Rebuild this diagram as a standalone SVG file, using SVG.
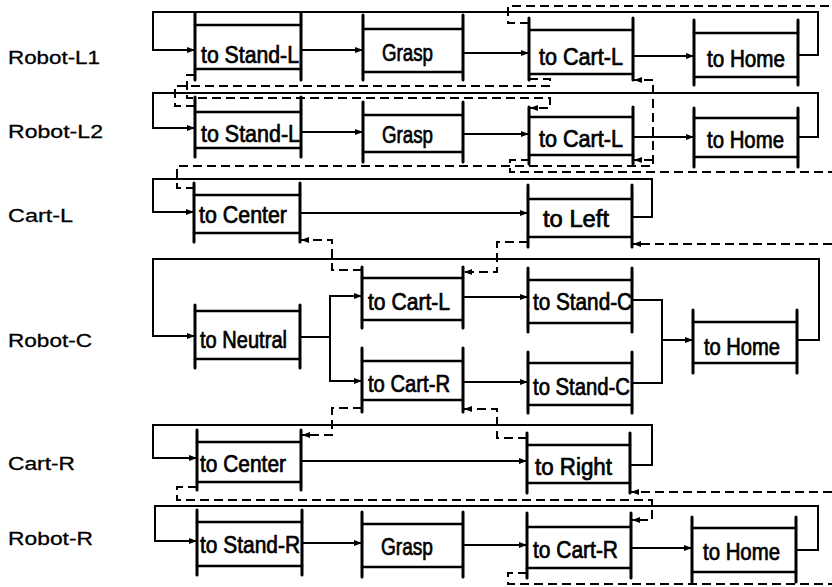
<svg xmlns="http://www.w3.org/2000/svg" width="832" height="587" viewBox="0 0 832 587">
<defs>
<marker id="ah" markerUnits="userSpaceOnUse" markerWidth="9" markerHeight="7" refX="8" refY="3" orient="auto"><path d="M0,0 L8,3 L0,6 z" fill="#000"/></marker>
<style>
.node line{stroke:#000;stroke-linecap:round}
.bar{stroke-width:3}
.hl{stroke-width:2.5}
.node text{font-family:"Liberation Sans",Arial,sans-serif;font-size:23px;fill:#000;stroke:#000;stroke-width:0.7}
.lbl{font-family:"Liberation Sans",Arial,sans-serif;font-size:19px;fill:#000;stroke:#000;stroke-width:0.3}
.s{fill:none;stroke:#000;stroke-width:2}
.d{fill:none;stroke:#000;stroke-width:2;stroke-dasharray:9 5}
.a{marker-end:url(#ah)}
</style>
</defs>
<rect width="832" height="587" fill="#fff"/>
<g id="labels">
<text class="lbl" x="8" y="64" textLength="92" lengthAdjust="spacingAndGlyphs">Robot-L1</text>
<text class="lbl" x="8" y="138" textLength="95" lengthAdjust="spacingAndGlyphs">Robot-L2</text>
<text class="lbl" x="8" y="222" textLength="65" lengthAdjust="spacingAndGlyphs">Cart-L</text>
<text class="lbl" x="8" y="347" textLength="84" lengthAdjust="spacingAndGlyphs">Robot-C</text>
<text class="lbl" x="8" y="470" textLength="67" lengthAdjust="spacingAndGlyphs">Cart-R</text>
<text class="lbl" x="8" y="545" textLength="85" lengthAdjust="spacingAndGlyphs">Robot-R</text>
</g>
<g id="connectors">
<path class="s a" d="M798,55 H818 V12 H153 V50 H195"/>
<path class="s a" d="M301,50 H363"/>
<path class="s a" d="M463,53 H529"/>
<path class="s a" d="M633,56 H694"/>
<path class="s a" d="M798,137 H818 V93 H153 V128 H195"/>
<path class="s a" d="M301,132 H363"/>
<path class="s a" d="M463,134 H529"/>
<path class="s a" d="M633,137 H694"/>
<path class="s a" d="M632,217 H652 V179 H153 V212 H194"/>
<path class="s a" d="M300,213 H528"/>
<path class="s a" d="M797,340 H819 V259 H153 V336 H195"/>
<path class="s a" d="M300,337 H330 V296 H362"/>
<path class="s a" d="M330,337 V381 H362"/>
<path class="s a" d="M463,297 H528"/>
<path class="s a" d="M463,382 H528"/>
<path class="s" d="M632,300 H662 V383 H632"/>
<path class="s a" d="M662,340 H693"/>
<path class="s a" d="M630,465 H652 V425 H153 V458 H197"/>
<path class="s a" d="M301,461 H527"/>
<path class="s a" d="M796,550 H818 V506 H155 V541 H197"/>
<path class="s a" d="M302,543 H362"/>
<path class="s a" d="M463,545 H527"/>
<path class="s a" d="M631,548 H692"/>
<path class="d" d="M529,23 H508 V6 H832"/>
<path class="d" d="M529,79 H550 V86 H175 V106 H195"/>
<path class="d a" d="M195,75 H187 V98 H550 V108 H530"/>
<path class="d a" d="M195,188 H177 V166 H653 V80 H634"/>
<path class="d a" d="M653,160 H634"/>
<path class="d" d="M530,160 H510 V172 H832"/>
<path class="d a" d="M832,244 H633"/>
<path class="d a" d="M528,242 H497 V272 H464"/>
<path class="d a" d="M362,270 H332 V240 H301"/>
<path class="d a" d="M362,408 H332 V435 H302"/>
<path class="d a" d="M527,438 H497 V409 H464"/>
<path class="d a" d="M832,492 H631"/>
<path class="d a" d="M197,487 H177 V500 H652 V520 H632"/>
<path class="d" d="M527,573 H508 V584 H832"/>
</g>
<g id="n1" class="node"><line class="bar" x1="195" y1="13" x2="195" y2="80"/><line class="bar" x1="301" y1="13" x2="301" y2="80"/><line class="hl" x1="195" y1="25" x2="301" y2="25"/><line class="hl" x1="195" y1="69" x2="301" y2="69"/><text x="201" y="63" textLength="98" lengthAdjust="spacingAndGlyphs">to Stand-L</text></g>
<g id="n2" class="node"><line class="bar" x1="363" y1="15" x2="363" y2="80"/><line class="bar" x1="463" y1="15" x2="463" y2="80"/><line class="hl" x1="363" y1="29" x2="463" y2="29"/><line class="hl" x1="363" y1="72" x2="463" y2="72"/><text x="382" y="61" textLength="51" lengthAdjust="spacingAndGlyphs">Grasp</text></g>
<g id="n3" class="node"><line class="bar" x1="529" y1="18" x2="529" y2="80"/><line class="bar" x1="633" y1="18" x2="633" y2="80"/><line class="hl" x1="529" y1="30" x2="633" y2="30"/><line class="hl" x1="529" y1="74" x2="633" y2="74"/><text x="539" y="65" textLength="84" lengthAdjust="spacingAndGlyphs">to Cart-L</text></g>
<g id="n4" class="node"><line class="bar" x1="694" y1="20" x2="694" y2="85"/><line class="bar" x1="798" y1="20" x2="798" y2="85"/><line class="hl" x1="694" y1="33" x2="798" y2="33"/><line class="hl" x1="694" y1="77" x2="798" y2="77"/><text x="707" y="67" textLength="78" lengthAdjust="spacingAndGlyphs">to Home</text></g>
<g id="n5" class="node"><line class="bar" x1="195" y1="97" x2="195" y2="157"/><line class="bar" x1="301" y1="97" x2="301" y2="157"/><line class="hl" x1="195" y1="112" x2="301" y2="112"/><line class="hl" x1="195" y1="148" x2="301" y2="148"/><text x="201" y="142" textLength="99" lengthAdjust="spacingAndGlyphs">to Stand-L</text></g>
<g id="n6" class="node"><line class="bar" x1="363" y1="102" x2="363" y2="162"/><line class="bar" x1="463" y1="102" x2="463" y2="162"/><line class="hl" x1="363" y1="115" x2="463" y2="115"/><line class="hl" x1="363" y1="152" x2="463" y2="152"/><text x="382" y="143" textLength="51" lengthAdjust="spacingAndGlyphs">Grasp</text></g>
<g id="n7" class="node"><line class="bar" x1="529" y1="107" x2="529" y2="164"/><line class="bar" x1="633" y1="107" x2="633" y2="164"/><line class="hl" x1="529" y1="117" x2="633" y2="117"/><line class="hl" x1="529" y1="155" x2="633" y2="155"/><text x="539" y="147" textLength="84" lengthAdjust="spacingAndGlyphs">to Cart-L</text></g>
<g id="n8" class="node"><line class="bar" x1="694" y1="108" x2="694" y2="167"/><line class="bar" x1="798" y1="108" x2="798" y2="167"/><line class="hl" x1="694" y1="118" x2="798" y2="118"/><line class="hl" x1="694" y1="157" x2="798" y2="157"/><text x="707" y="148" textLength="77" lengthAdjust="spacingAndGlyphs">to Home</text></g>
<g id="n9" class="node"><line class="bar" x1="194" y1="183" x2="194" y2="242"/><line class="bar" x1="300" y1="183" x2="300" y2="242"/><line class="hl" x1="194" y1="195" x2="300" y2="195"/><line class="hl" x1="194" y1="233" x2="300" y2="233"/><text x="199" y="223" textLength="88" lengthAdjust="spacingAndGlyphs">to Center</text></g>
<g id="n10" class="node"><line class="bar" x1="528" y1="185" x2="528" y2="247"/><line class="bar" x1="632" y1="185" x2="632" y2="247"/><line class="hl" x1="528" y1="199" x2="632" y2="199"/><line class="hl" x1="528" y1="237" x2="632" y2="237"/><text x="543" y="227" textLength="66" lengthAdjust="spacingAndGlyphs">to Left</text></g>
<g id="n11" class="node"><line class="bar" x1="195" y1="305" x2="195" y2="368"/><line class="bar" x1="300" y1="305" x2="300" y2="368"/><line class="hl" x1="195" y1="311" x2="300" y2="311"/><line class="hl" x1="195" y1="359" x2="300" y2="359"/><text x="200" y="348" textLength="87" lengthAdjust="spacingAndGlyphs">to Neutral</text></g>
<g id="n12" class="node"><line class="bar" x1="362" y1="267" x2="362" y2="328"/><line class="bar" x1="463" y1="267" x2="463" y2="328"/><line class="hl" x1="362" y1="278" x2="463" y2="278"/><line class="hl" x1="362" y1="320" x2="463" y2="320"/><text x="368" y="310" textLength="82" lengthAdjust="spacingAndGlyphs">to Cart-L</text></g>
<g id="n13" class="node"><line class="bar" x1="528" y1="268" x2="528" y2="332"/><line class="bar" x1="632" y1="268" x2="632" y2="332"/><line class="hl" x1="528" y1="280" x2="632" y2="280"/><line class="hl" x1="528" y1="323" x2="632" y2="323"/><text x="533" y="310" textLength="99" lengthAdjust="spacingAndGlyphs">to Stand-C</text></g>
<g id="n14" class="node"><line class="bar" x1="693" y1="310" x2="693" y2="373"/><line class="bar" x1="797" y1="310" x2="797" y2="373"/><line class="hl" x1="693" y1="322" x2="797" y2="322"/><line class="hl" x1="693" y1="363" x2="797" y2="363"/><text x="704" y="355" textLength="76" lengthAdjust="spacingAndGlyphs">to Home</text></g>
<g id="n15" class="node"><line class="bar" x1="362" y1="348" x2="362" y2="412"/><line class="bar" x1="463" y1="348" x2="463" y2="412"/><line class="hl" x1="362" y1="361" x2="463" y2="361"/><line class="hl" x1="362" y1="400" x2="463" y2="400"/><text x="368" y="392" textLength="82" lengthAdjust="spacingAndGlyphs">to Cart-R</text></g>
<g id="n16" class="node"><line class="bar" x1="528" y1="352" x2="528" y2="413"/><line class="bar" x1="632" y1="352" x2="632" y2="413"/><line class="hl" x1="528" y1="363" x2="632" y2="363"/><line class="hl" x1="528" y1="405" x2="632" y2="405"/><text x="533" y="395" textLength="97" lengthAdjust="spacingAndGlyphs">to Stand-C</text></g>
<g id="n17" class="node"><line class="bar" x1="197" y1="430" x2="197" y2="490"/><line class="bar" x1="301" y1="430" x2="301" y2="490"/><line class="hl" x1="197" y1="442" x2="301" y2="442"/><line class="hl" x1="197" y1="482" x2="301" y2="482"/><text x="200" y="472" textLength="86" lengthAdjust="spacingAndGlyphs">to Center</text></g>
<g id="n18" class="node"><line class="bar" x1="527" y1="433" x2="527" y2="493"/><line class="bar" x1="630" y1="433" x2="630" y2="493"/><line class="hl" x1="527" y1="445" x2="630" y2="445"/><line class="hl" x1="527" y1="483" x2="630" y2="483"/><text x="535" y="475" textLength="77" lengthAdjust="spacingAndGlyphs">to Right</text></g>
<g id="n19" class="node"><line class="bar" x1="197" y1="510" x2="197" y2="575"/><line class="bar" x1="302" y1="510" x2="302" y2="575"/><line class="hl" x1="197" y1="522" x2="302" y2="522"/><line class="hl" x1="197" y1="566" x2="302" y2="566"/><text x="200" y="553" textLength="100" lengthAdjust="spacingAndGlyphs">to Stand-R</text></g>
<g id="n20" class="node"><line class="bar" x1="362" y1="512" x2="362" y2="577"/><line class="bar" x1="463" y1="512" x2="463" y2="577"/><line class="hl" x1="362" y1="524" x2="463" y2="524"/><line class="hl" x1="362" y1="567" x2="463" y2="567"/><text x="381" y="555" textLength="52" lengthAdjust="spacingAndGlyphs">Grasp</text></g>
<g id="n21" class="node"><line class="bar" x1="527" y1="513" x2="527" y2="578"/><line class="bar" x1="631" y1="513" x2="631" y2="578"/><line class="hl" x1="527" y1="527" x2="631" y2="527"/><line class="hl" x1="527" y1="568" x2="631" y2="568"/><text x="533" y="558" textLength="85" lengthAdjust="spacingAndGlyphs">to Cart-R</text></g>
<g id="n22" class="node"><line class="bar" x1="692" y1="517" x2="692" y2="582"/><line class="bar" x1="796" y1="517" x2="796" y2="582"/><line class="hl" x1="692" y1="528" x2="796" y2="528"/><line class="hl" x1="692" y1="572" x2="796" y2="572"/><text x="703" y="560" textLength="77" lengthAdjust="spacingAndGlyphs">to Home</text></g>
</svg>
